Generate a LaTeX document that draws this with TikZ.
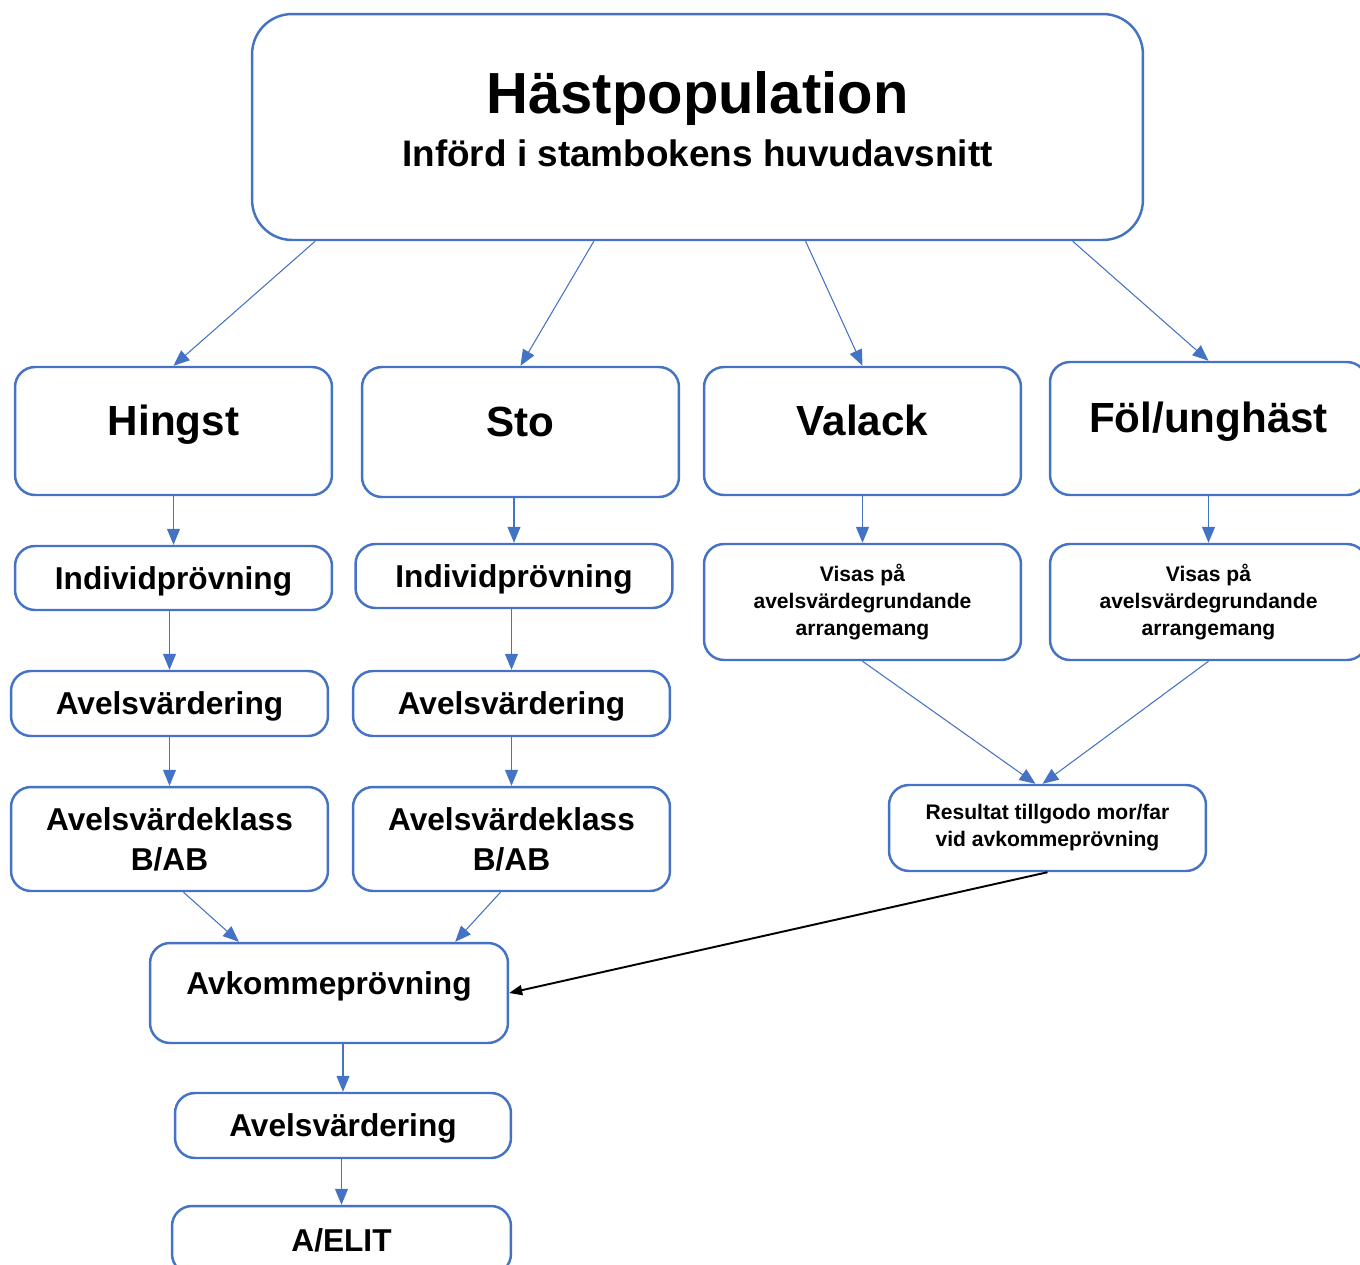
\documentclass[tikz,border=0pt]{standalone}
\usepackage{fontspec}
\setmainfont{Liberation Sans}
\usetikzlibrary{arrows.meta,calc}
\definecolor{boxblue}{RGB}{68,114,196}
\begin{document}
\begin{tikzpicture}[x=0.02cm,y=-0.02cm,
	box/.style={draw=boxblue,line width=1.4pt,rounded corners=0.4cm,align=center,inner sep=0pt,minimum width=6.34cm},
	big/.style={box,font=\bfseries\fontsize{24}{29}\selectfont,text height=0.61cm,text depth=0.44cm},
	mid/.style={box,font=\bfseries\fontsize{18}{22.7}\selectfont},
	one/.style={mid,text height=0.45cm,text depth=0pt},
	small/.style={box,font=\bfseries\fontsize{12}{15.3}\selectfont},
	arr/.style={draw=boxblue,line width=0.6pt,-{Triangle[length=0.32cm,width=0.26cm]}},
	blk/.style={draw=black,line width=1.1pt,-{Triangle[length=0.26cm,width=0.2cm]}}]
	\useasboundingbox (0,0) rectangle (1360,1265);
	\node[box,minimum width=17.82cm,minimum height=4.52cm,rounded corners=0.8cm,text depth=0.32cm] (top) at (697.5,127)
	{{\bfseries\fontsize{33}{30}\selectfont Hästpopulation}\\[0.25cm]{\bfseries\fontsize{21}{25}\selectfont Införd i stambokens huvudavsnitt}};
	\node[big,minimum height=2.56cm] (hingst) at (173.5,431) {Hingst};
	\node[big,minimum height=2.6cm] (sto) at (520.5,432) {Sto};
	\node[big,minimum height=2.56cm] (valack) at (862.5,431) {Valack};
	\node[big,minimum height=2.66cm] (fol) at (1208.5,428.5) {Föl/unghäst};
	\node[one,minimum height=1.28cm] (indivL) at (173.5,578) {Individprövning};
	\node[one,minimum height=1.28cm] (indivS) at (514,576) {Individprövning};
	\node[small,minimum height=2.32cm] (visasV) at (862.5,602) {Visas på\\avelsvärdegrundande\\arrangemang};
	\node[small,minimum height=2.32cm] (visasF) at (1208.5,602) {Visas på\\avelsvärdegrundande\\arrangemang};
	\node[one,minimum height=1.3cm] (avelsL) at (169.5,703.5) {Avelsvärdering};
	\node[one,minimum height=1.3cm] (avelsS) at (511.5,703.5) {Avelsvärdering};
	\node[mid,minimum height=2.08cm] (klassL) at (169.5,839) {Avelsvärdeklass\\B/AB};
	\node[mid,minimum height=2.08cm] (klassS) at (511.5,839) {Avelsvärdeklass\\B/AB};
	\node[small,minimum height=1.72cm] (res) at (1047.5,828) {Resultat tillgodo mor/far\\vid avkommeprövning};
	\node[one,minimum width=7.16cm,minimum height=2cm,text depth=0.4cm] (avk) at (329,993) {Avkommeprövning};
	\node[one,minimum width=6.72cm,minimum height=1.3cm] (avelsB) at (343,1125.5) {Avelsvärdering};
	\node[one,minimum width=6.78cm,minimum height=1.36cm] (elit) at (341.5,1240) {A/ELIT};
	\draw[arr] ($(top.south west)!.072!(top.south east)$) -- (hingst.north);
	\draw[arr] ($(top.south west)!.384!(top.south east)$) -- (sto.north);
	\draw[arr] ($(top.south west)!.621!(top.south east)$) -- (valack.north);
	\draw[arr] ($(top.south west)!.92!(top.south east)$) -- (fol.north);
	\foreach \a/\b in {hingst/indivL,sto/indivS,valack/visasV,fol/visasF,indivL/avelsL,indivS/avelsS,avelsL/klassL,avelsS/klassS,avk/avelsB,avelsB/elit}
		\draw[arr] (\b.north |- \a.south) -- (\b.north);
	\draw[arr] ($(klassL.south)+(14,0)$) -- ($(avk.north west)!.25!(avk.north east)$);
	\draw[arr] ($(klassS.south)+(-11,0)$) -- ($(avk.north west)!.85!(avk.north east)$);
	\draw[arr] (visasV.south) -- ($(res.north)+(-12,0)$);
	\draw[arr] (visasF.south) -- ($(res.north)+(-5,0)$);
	\draw[blk] (res.south) -- (avk.east);
\end{tikzpicture}
\end{document}
